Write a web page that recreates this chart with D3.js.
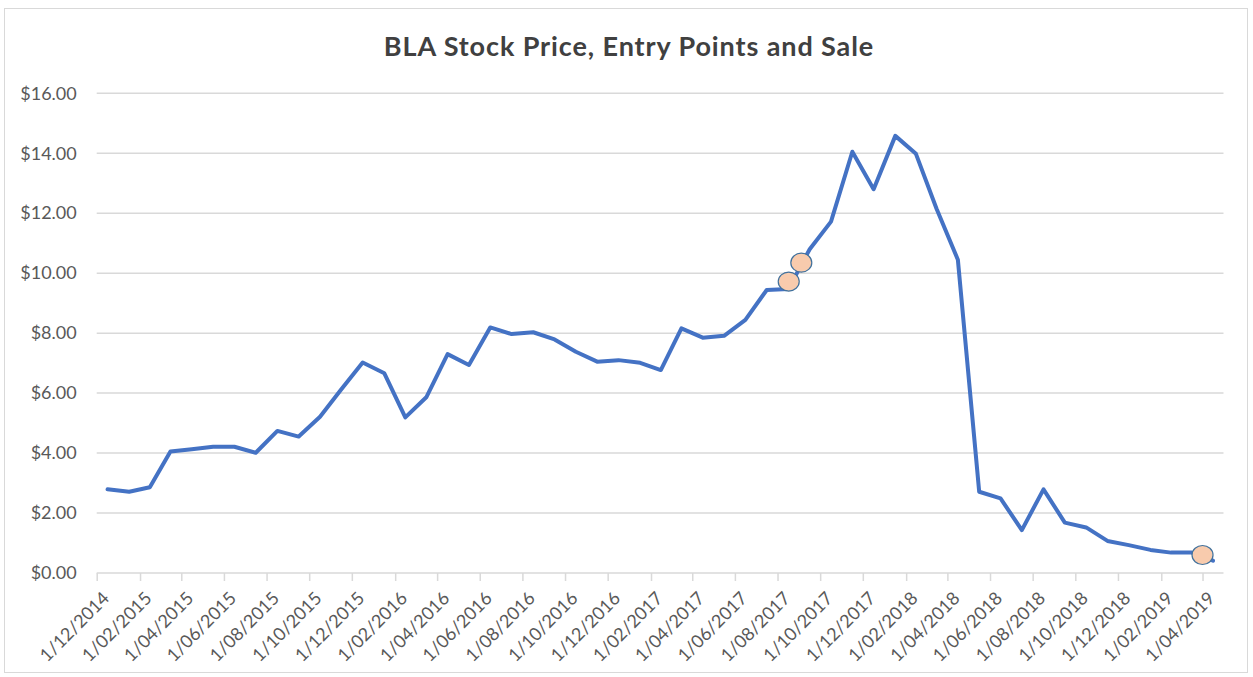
<!DOCTYPE html>
<html>
<head>
<meta charset="utf-8">
<script src="https://cdn.jsdelivr.net/npm/d3@7"></script>
<style>
  html, body { margin: 0; padding: 0; background: #ffffff; }
  svg { display: block; font-family: Lato, "Open Sans", sans-serif; }
</style>
</head>
<body>
<svg id="chart" width="1253" height="677"></svg>
<script>
/******************************************************************************/
/** data */

var title = 'BLA Stock Price, Entry Points and Sale';

var months = [
  '2014-12',
  '2015-01','2015-02','2015-03','2015-04','2015-05','2015-06','2015-07','2015-08','2015-09','2015-10','2015-11','2015-12',
  '2016-01','2016-02','2016-03','2016-04','2016-05','2016-06','2016-07','2016-08','2016-09','2016-10','2016-11','2016-12',
  '2017-01','2017-02','2017-03','2017-04','2017-05','2017-06','2017-07','2017-08','2017-09','2017-10','2017-11','2017-12',
  '2018-01','2018-02','2018-03','2018-04','2018-05','2018-06','2018-07','2018-08','2018-09','2018-10','2018-11','2018-12',
  '2019-01','2019-02','2019-03','2019-04'
];

var prices = [
  2.79,
  2.71, 2.86, 4.05, 4.13, 4.21, 4.21, 4.01, 4.74, 4.55, 5.21, 6.13, 7.02,
  6.66, 5.19, 5.86, 7.30, 6.94, 8.19, 7.97, 8.03, 7.79, 7.38, 7.05, 7.10,
  7.01, 6.77, 8.16, 7.85, 7.91, 8.44, 9.44, 9.47, 10.80, 11.72, 14.05, 12.80,
  14.58, 13.98, 12.15, 10.45, 2.71, 2.49, 1.43, 2.79, 1.68, 1.52, 1.07, 0.93,
  0.77, 0.68, 0.68, 0.41
];

// entry points and sale
var eventDates = ['2017-08-17', '2017-09-04', '2019-04-01'];
var eventPrices = [9.72, 10.35, 0.60];

var yTicks = [0, 2, 4, 6, 8, 10, 12, 14, 16];

/******************************************************************************/
/** scales */

var parseMonth = d3.timeParse('%Y-%m');
var parseDay = d3.timeParse('%Y-%m-%d');

var plotLeft = 96.7, plotRight = 1223.5, plotTop = 93.3, plotBottom = 573;

var x = d3.scaleTime()
  .domain([parseMonth('2014-12'), parseMonth('2019-05')])
  .range([plotLeft, plotRight]);

var y = d3.scaleLinear().domain([0, 16]).range([plotBottom, plotTop]);

// a monthly price sits in the middle of its month
function monthMid(m){
  var a = parseMonth(m);
  var b = d3.timeMonth.offset(a, 1);
  return (x(a) + x(b)) / 2;
}

// every second month gets a tick, starting at 1/12/2014
var xTicks = months.filter(function(m, i){ return i % 2 == 0; }).map(parseMonth);

var svg = d3.select('#chart');

// chart frame
svg.append('rect')
  .attr('x', 4.5).attr('y', 8.5)
  .attr('width', 1243).attr('height', 664)
  .style('fill', 'none').style('stroke', '#d9d9d9').style('stroke-width', 1);

// title
svg.append('text')
  .attr('x', 629).attr('y', 56)
  .attr('text-anchor', 'middle')
  .style('font-size', '27px').style('font-weight', 'bold').style('fill', '#404040')
  .style('letter-spacing', '0.9px')
  .text(title);

/******************************************************************************/
/** gridlines and y axis */

svg.append('g').selectAll('line').data(yTicks.slice(1)).enter().append('line')
  .attr('x1', plotLeft).attr('x2', plotRight)
  .attr('y1', function(d){ return y(d); }).attr('y2', function(d){ return y(d); })
  .style('stroke', '#d9d9d9').style('stroke-width', 1.5);

var yAxis = svg.append('g')
  .attr('transform', 'translate(' + (plotLeft - 20) + ',0)')
  .call(d3.axisLeft(y).tickValues(yTicks).tickSize(0).tickPadding(0)
    .tickFormat(function(d){ return '$' + d.toFixed(2); }));
yAxis.select('.domain').remove();
yAxis.selectAll('text')
  .style('font-family', 'Lato, "Open Sans", sans-serif')
  .style('font-size', '18px').style('fill', '#595959');

/******************************************************************************/
/** x axis */

var xAxis = svg.append('g')
  .attr('transform', 'translate(0,' + plotBottom + ')')
  .call(d3.axisBottom(x).tickValues(xTicks).tickSize(8)
    .tickFormat(d3.timeFormat('1/%m/%Y')));
xAxis.select('.domain').attr('d', 'M' + plotLeft + ',0H' + plotRight)
  .style('stroke', '#d9d9d9').style('stroke-width', 1.5);
xAxis.selectAll('.tick line').style('stroke', '#d9d9d9').style('stroke-width', 1.5);
xAxis.selectAll('.tick text')
  .attr('text-anchor', 'end')
  .attr('x', 0).attr('y', 0).attr('dy', '0.35em')
  .attr('transform', function(d){
    var mid = (x(d) + x(d3.timeMonth.offset(d, 1))) / 2 - x(d);
    return 'translate(' + (mid - 2) + ',22) rotate(-45)';
  })
  .style('font-family', 'Lato, "Open Sans", sans-serif')
  .style('font-size', '18px').style('fill', '#595959');

/******************************************************************************/
/** price line and markers */

var line = d3.line()
  .x(function(d, i){ return monthMid(months[i]); })
  .y(function(d){ return y(d); });

svg.append('path')
  .datum(prices)
  .attr('d', line)
  .style('fill', 'none').style('stroke', '#4472c4')
  .style('stroke-width', 4).style('stroke-linejoin', 'round').style('stroke-linecap', 'round');

svg.append('g').selectAll('ellipse').data(eventPrices).enter().append('ellipse')
  .attr('cx', function(d, i){ return x(parseDay(eventDates[i])); })
  .attr('cy', function(d){ return y(d); })
  .attr('rx', 10.5).attr('ry', 9.5)
  .style('fill', '#f8cbad').style('stroke', '#41719c').style('stroke-width', 1.2);
</script>
</body>
</html>
